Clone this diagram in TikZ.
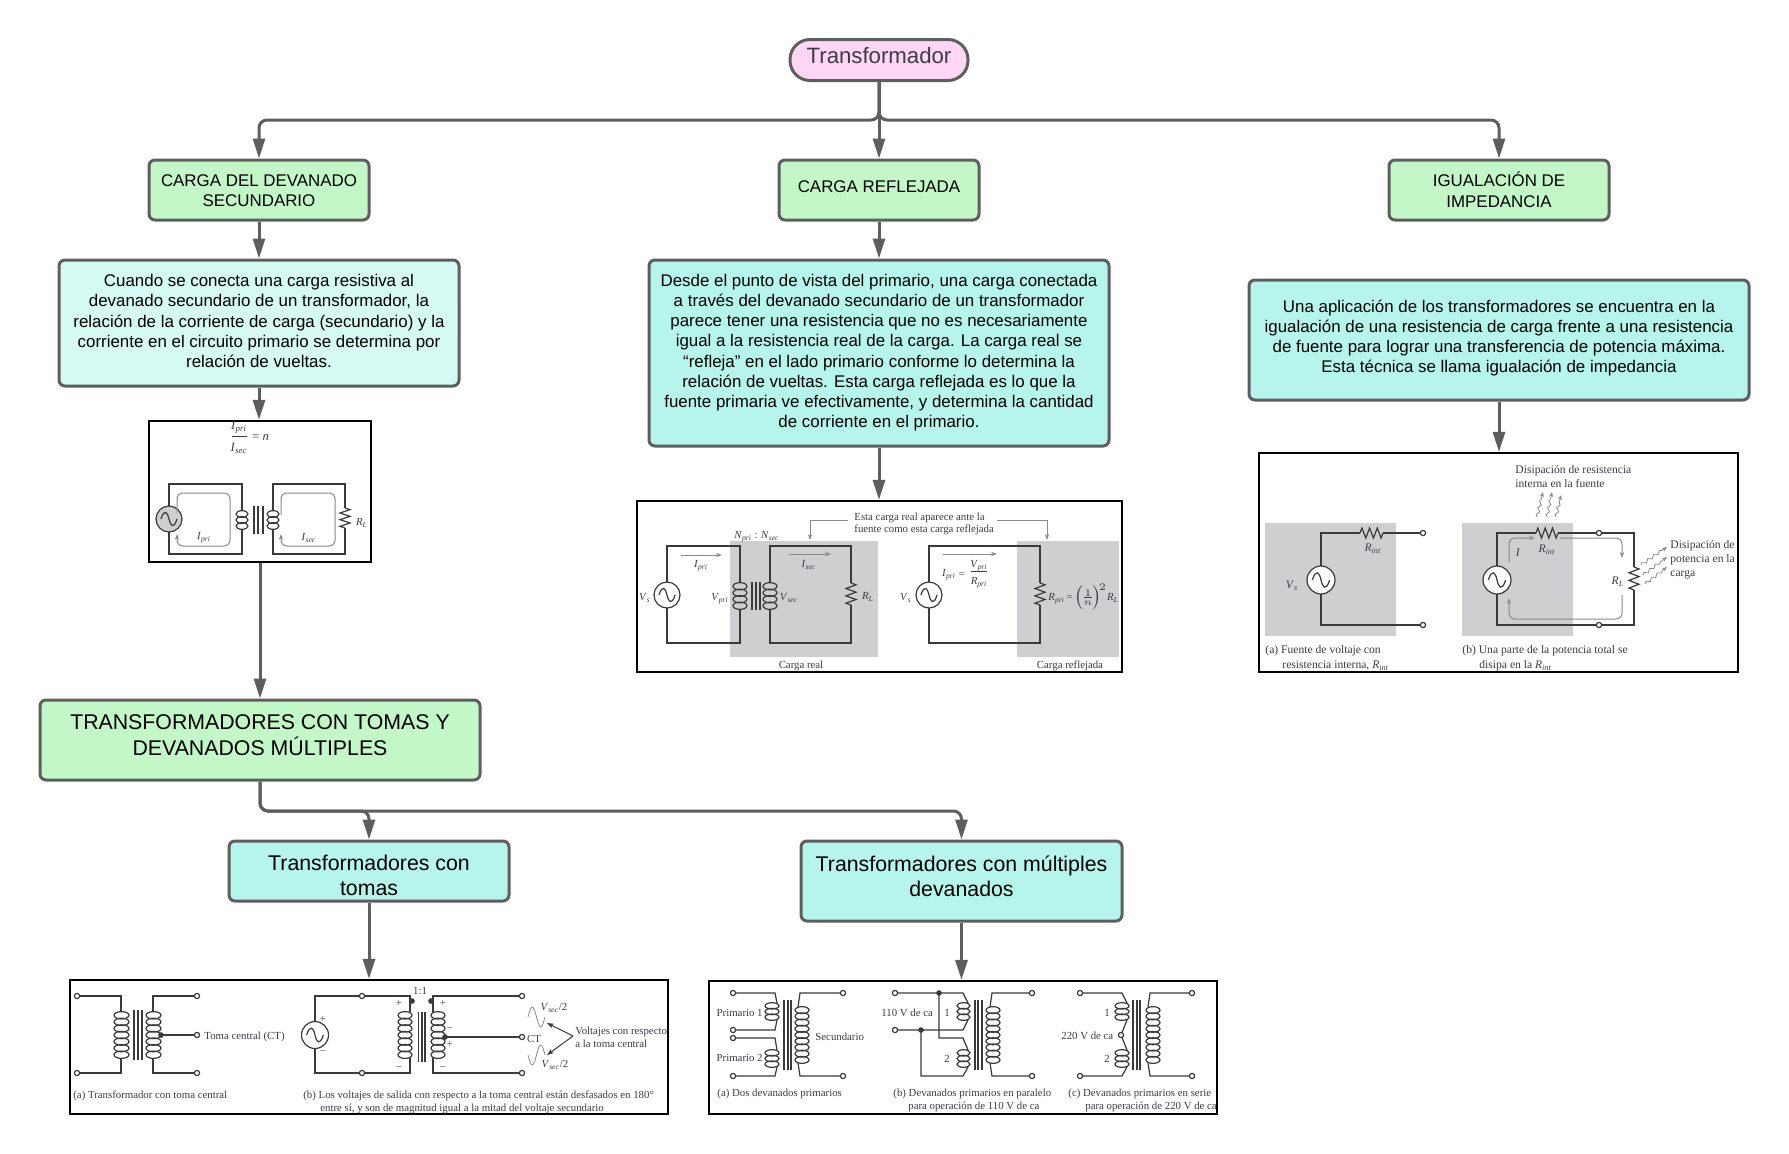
\documentclass[tikz,border=0pt]{standalone}
\usepackage{fontspec}
\setmainfont{Liberation Sans}
\newfontfamily\serf{Liberation Serif}
\usetikzlibrary{arrows.meta,decorations.pathmorphing}
\definecolor{edgec}{HTML}{5E5E5E}
\definecolor{greenc}{HTML}{C3F7C8}
\definecolor{cyanl}{HTML}{D5F9F3}
\definecolor{cyanc}{HTML}{B5F5EC}
\definecolor{pinkc}{HTML}{FFD6F5}
\definecolor{shadec}{HTML}{CFCFD1}
\definecolor{wirec}{HTML}{3A3A3A}
\definecolor{labc}{HTML}{3C3C44}
\definecolor{faint}{HTML}{8A8A8A}
\newcounter{lblc}
\newbox\tbbox
\newcommand{\bodyf}{\fontsize{8.45}{10.1}\selectfont}
\newcommand{\headf}{\fontsize{10.65}{12.6}\selectfont}
\newcommand{\TB}[3]{\setbox\tbbox=\hbox{#2\begin{tabular}{@{}c@{}}#3\end{tabular}}\raisebox{0pt}[\dimexpr\ht\tbbox-(#1)\relax][\dimexpr\dp\tbbox+(#1)\relax]{\copy\tbbox}}
\tikzset{
  flow/.style={draw=edgec,line width=1.5pt,rounded corners=3pt,text=black,align=center,inner sep=0pt},
  conn/.style={draw=edgec,line width=1.5pt,rounded corners=4pt,-{Triangle[length=10pt,width=6pt]}},
  frameb/.style={draw=black,line width=1.1pt,fill=white,inner sep=0pt},
  wire/.style={draw=wirec,line width=.6pt},
  inner arrow/.style={draw=faint,line width=.5pt,-{Stealth[length=3pt,width=2.2pt]}},
  lab/.style={inner sep=0pt,yshift=-.9pt,text=labc,font=\serf\fontsize{5.4}{6.4}\selectfont},
  labw/.style={font=\serf\fontsize{5.8}{6.8}\selectfont},
  labb/.style={font=\serf\fontsize{6.3}{7.3}\selectfont},
  heat/.style={draw=faint,line width=.4pt,-{Stealth[length=2.5pt,width=2pt]},decorate,decoration={snake,amplitude=.7pt,segment length=3.5pt,post length=2.5pt}}
}
% style, name, x1, y1, x2, y2, text
\newcommand{\Bx}[7]{%
  \pgfmathsetmacro{\bxw}{(#5-#3)*0.5}\pgfmathsetmacro{\bxh}{(#6-#4)*0.5}%
  \node[#1,minimum width=\bxw pt,minimum height=\bxh pt] (#2) at ({(#3+#5)/2},{(#4+#6)/2}) {#7};}
\newcommand{\Lbl}[4][]{\stepcounter{lblc}\node[lab,#1] (lbl\arabic{lblc}) at (#2,#3) {#4};}
\newcommand{\IV}[2]{\textit{#1}\textsubscript{\textit{#2}}}
\newcommand{\Coil}[5]{%
  \pgfmathsetmacro{\cx}{(#1+#2)/2}\pgfmathsetmacro{\rx}{(#2-#1)/2}\pgfmathsetmacro{\stp}{(#4-#3)/#5}%
  \foreach \k in {1,...,#5}{\draw[wire] (\cx,{#3+(\k-0.5)*\stp}) ellipse [x radius=\rx,y radius={0.56*\stp}];}}
\newcommand{\ResV}[3]{%
  \pgfmathsetmacro{\stp}{(#3-#2)/6}%
  \draw[wire] (#1,#2)--({#1+5},{#2+.5*\stp})--({#1-5},{#2+1.5*\stp})--({#1+5},{#2+2.5*\stp})--({#1-5},{#2+3.5*\stp})--({#1+5},{#2+4.5*\stp})--({#1-5},{#2+5.5*\stp})--(#1,#3);}
\newcommand{\ResH}[3]{%
  \pgfmathsetmacro{\stp}{(#2-#1)/6}%
  \draw[wire] (#1,#3)--({#1+.5*\stp},{#3-5})--({#1+1.5*\stp},{#3+5})--({#1+2.5*\stp},{#3-5})--({#1+3.5*\stp},{#3+5})--({#1+4.5*\stp},{#3-5})--({#1+5.5*\stp},{#3+5})--(#2,#3);}
\newcommand{\Src}[4]{%
  \draw[wire,fill=#4] (#1,#2) circle [radius=#3];
  \draw[wire] ({#1-.62*#3},#2) .. controls ({#1-.35*#3},{#2-.85*#3}) and ({#1-.1*#3},{#2-.5*#3}) .. (#1,#2) .. controls ({#1+.1*#3},{#2+.5*#3}) and ({#1+.35*#3},{#2+.85*#3}) .. ({#1+.62*#3},#2);}
\newcommand{\Term}[2]{\draw[wire,fill=white] (#1,#2) circle [radius=2.6];}
\newcommand{\Dot}[2]{\fill[wirec] (#1,#2) circle [radius=2.8];}
\newcommand{\Bars}[5]{\foreach \bb in {#1,#2,#3}{\draw[wirec,line width=.8pt] (\bb,#4)--(\bb,#5);}}
\begin{document}
\begin{tikzpicture}[x=0.5pt,y=-0.5pt]
\useasboundingbox (0,0) rectangle (1789,1153);
\fill[white] (0,0) rectangle (1789,1153);
% ---- flow boxes ----
\node[flow,fill=pinkc,rounded corners=10pt,minimum width=89pt,minimum height=20.5pt,text=labc] (top) at (879,60) {\raisebox{4.9pt}{\fontsize{11.1}{13}\selectfont Transformador}};
\Bx{flow,fill=greenc}{cds}{149}{160}{369}{220}{\TB{-1.3pt}{\bodyf}{CARGA DEL DEVANADO\\SECUNDARIO}}
\Bx{flow,fill=greenc}{cr}{779}{160}{979}{220}{\raisebox{3.1pt}{\bodyf CARGA REFLEJADA}}
\Bx{flow,fill=greenc}{ii}{1389}{160}{1609}{220}{\TB{-1.3pt}{\bodyf}{IGUALACIÓN DE\\IMPEDANCIA}}
\Bx{flow,fill=cyanl}{t1}{59}{260}{459}{386}{\TB{0pt}{\bodyf}{Cuando se conecta una carga resistiva al\\devanado secundario de un transformador, la\\relación de la corriente de carga (secundario) y la\\corriente en el circuito primario se determina por\\relación de vueltas.}}
\Bx{flow,fill=cyanc}{t2}{649}{260}{1109}{446}{\TB{0pt}{\bodyf}{Desde el punto de vista del primario, una carga conectada\\a través del devanado secundario de un transformador\\parece tener una resistencia que no es necesariamente\\igual a la resistencia real de la carga. La carga real se\\“refleja” en el lado primario conforme lo determina la\\relación de vueltas. Esta carga reflejada es lo que la\\fuente primaria ve efectivamente, y determina la cantidad\\de corriente en el primario.}}
\Bx{flow,fill=cyanc}{t3}{1249}{280}{1749}{400}{\TB{.7pt}{\bodyf}{Una aplicación de los transformadores se encuentra en la\\igualación de una resistencia de carga frente a una resistencia\\de fuente para lograr una transferencia de potencia máxima.\\Esta técnica se llama igualación de impedancia}}
\Bx{flow,fill=greenc}{tt}{40}{700}{480}{780}{\TB{1.1pt}{\headf}{TRANSFORMADORES CON TOMAS Y\\DEVANADOS MÚLTIPLES}}
\Bx{flow,fill=cyanc}{tc}{229}{841}{509}{901}{\TB{-3.4pt}{\headf}{Transformadores con\\tomas}}
\Bx{flow,fill=cyanc}{tm}{801}{841}{1122}{921}{\TB{1.1pt}{\headf}{Transformadores con múltiples\\devanados}}
% ---- picture frames ----
\Bx{frameb}{img1}{149}{421}{371}{562}{}
\Bx{frameb}{img2}{637}{501}{1122}{672}{}
\Bx{frameb}{img3}{1259}{453}{1738}{672}{}
\Bx{frameb}{img4}{70}{980}{668}{1114}{}
\Bx{frameb}{img5}{709}{981}{1217}{1114}{}
% ---- connectors ----
\coordinate (bus) at (879,120);
\coordinate (bus2) at (260,811);
\draw[conn] (top.south) -- (bus) -| (cds.north);
\draw[conn] (top.south) -- (cr.north);
\draw[conn] (top.south) -- (bus) -| (ii.north);
\draw[conn] (cds.south) -- (t1.north);
\draw[conn] (cr.south) -- (t2.north);
\draw[conn] (t1.south) -- (t1.south |- img1.north);
\draw[conn] (t2.south) -- (t2.south |- img2.north);
\draw[conn] (t3.south) -- (t3.south |- img3.north);
\draw[conn] (img1.south) -- (img1.south |- tt.north);
\draw[conn] (tt.south -| bus2) -- (bus2) -| (tc.north);
\draw[conn] (tt.south -| bus2) -- (bus2) -| (tm.north);
\draw[conn] (tc.south) -- (tc.south |- img4.north);
\draw[conn] (tm.south) -- (tm.south |- img5.north);
% ---- picture 1 ----
\Lbl[labb]{239}{426}{\IV{I}{pri}}
\draw[labc,line width=.4pt] (232,436)--(247,436);
\Lbl[labb]{239}{447}{\IV{I}{sec}}
\Lbl[labb,anchor=west]{252}{436}{= \textit{n}}
\draw[wire] (242,511)--(242,484)--(169,484)--(169,554)--(242,554)--(242,529);
\draw[wire] (273,511)--(273,484)--(345,484)--(345,508);
\draw[wire] (345,528)--(345,554)--(273,554)--(273,529);
\Src{169}{519}{13}{shadec}
\Coil{236}{248}{511}{529}{3}
\Coil{267}{279}{511}{529}{3}
\Bars{254}{258}{263}{506}{534}
\ResV{345}{508}{528}
\Lbl{362}{521}{\IV{R}{L}}
\draw[inner arrow,rounded corners=3pt] (177,513)--(177,493)--(230,493)--(230,546)--(177,546)--(177,534);
\draw[inner arrow,rounded corners=3pt] (281,515)--(281,493)--(335,493)--(335,546)--(281,546)--(281,534);
\Lbl{204}{536}{\IV{I}{pri}}
\Lbl{309}{536}{\IV{I}{sec}}
% ---- picture 2 ----
\fill[shadec] (730,541) rectangle (878,657);
\fill[shadec] (1017,541) rectangle (1119,657);
\draw[wire] (740,583)--(740,546)--(667,546)--(667,643)--(740,643)--(740,609);
\draw[wire] (770,583)--(770,546)--(851,546)--(851,583);
\draw[wire] (851,605)--(851,643)--(770,643)--(770,609);
\Src{667}{595}{13}{white}
\Coil{733}{747}{583}{609}{4}
\Coil{763}{777}{583}{609}{4}
\Bars{752}{756}{760}{582}{610}
\ResV{851}{583}{605}
\draw[wire] (1040,583)--(1040,546)--(929,546)--(929,643)--(1040,643)--(1040,605);
\Src{929}{595}{13}{white}
\ResV{1040}{583}{605}
\draw[inner arrow] (681,555)--(722,555);
\draw[inner arrow] (789,554)--(831,554);
\draw[inner arrow] (943,554)--(997,554);
\Lbl[anchor=west]{854}{516}{Esta carga real aparece ante la}
\Lbl[anchor=west]{854}{528}{fuente como esta carga reflejada}
\coordinate (nA) at (848,520);\coordinate (nB) at (810,540);\coordinate (nC) at (997,520);\coordinate (nD) at (1047,540);
\draw[inner arrow] (nA)-|(nB);
\draw[inner arrow] (nC)-|(nD);
\Lbl{645}{596}{\IV{V}{s}}
\Lbl{720}{597}{\IV{V}{pri}}
\Lbl{789}{596}{\IV{V}{sec}}
\Lbl{868}{595}{\IV{R}{L}}
\Lbl{757}{535}{\IV{N}{pri} : \IV{N}{sec}}
\Lbl{701}{564}{\IV{I}{pri}}
\Lbl{809}{563}{\IV{I}{sec}}
\Lbl{906}{596}{\IV{V}{s}}
\Lbl{949}{573}{\IV{I}{pri}}
\Lbl{962}{573}{=}
\Lbl{979}{564}{\IV{V}{pri}}
\draw[labc,line width=.4pt] (971,571)--(987,571);
\Lbl{979}{581}{\IV{R}{pri}}
\Lbl[anchor=west]{1048}{595}{\nulldelimiterspace=0pt\IV{R}{pri}\,=\,$\left(\frac{1}{n}\right)^{\!2}$\IV{R}{L}}
\Lbl{801}{664}{Carga real}
\Lbl{1070}{664}{Carga reflejada}
% ---- picture 3 ----
\fill[shadec] (1265,523) rectangle (1396,636);
\fill[shadec] (1462,523) rectangle (1573,636);
\draw[wire] (1360,533)--(1321,533)--(1321,625)--(1423,625);
\draw[wire] (1383,533)--(1423,533);
\Src{1321}{580}{14}{white}
\ResH{1360}{1383}{533}
\Term{1423}{533}\Term{1423}{625}
\Lbl[labw]{1373}{547}{\IV{R}{int}}
\Lbl[labw]{1292}{584}{\IV{V}{s}}
\Lbl[labw,anchor=west]{1265}{649}{(a) Fuente de voltaje con}
\Lbl[labw,anchor=west]{1282}{664}{resistencia interna, \IV{R}{int}}
\draw[wire] (1536,533)--(1497,533)--(1497,625)--(1634,625)--(1634,590);
\draw[wire] (1558,533)--(1634,533)--(1634,567);
\Src{1497}{580}{14}{white}
\ResH{1536}{1558}{533}
\ResV{1634}{567}{590}
\Term{1599}{533}\Term{1599}{625}
\Lbl[labw]{1618}{580}{\IV{R}{L}}
\Lbl[labw]{1547}{548}{\IV{R}{int}}
\Lbl[labw]{1518}{551}{\textit{I}}
\draw[inner arrow,rounded corners=3pt] (1509,562)--(1509,538)--(1535,538);
\draw[inner arrow,rounded corners=3pt] (1560,538)--(1622,538)--(1622,558);
\draw[inner arrow,rounded corners=3pt] (1622,595)--(1622,619)--(1509,619)--(1509,598);
\draw[heat] (1537,517)--(1543,492);
\draw[heat] (1547,517)--(1552,492);
\draw[heat] (1556,517)--(1561,495);
\draw[heat] (1641,565)--(1667,547);
\draw[heat] (1643,575)--(1667,557);
\draw[heat] (1645,584)--(1667,567);
\Lbl[labw,anchor=west]{1515}{469}{Disipación de resistencia}
\Lbl[labw,anchor=west]{1515}{482}{interna en la fuente}
\Lbl[labw,anchor=west]{1670}{544}{Disipación de}
\Lbl[labw,anchor=west]{1670}{558}{potencia en la}
\Lbl[labw,anchor=west]{1670}{573}{carga}
\Lbl[labw,anchor=west]{1462}{649}{(b) Una parte de la potencia total se}
\Lbl[labw,anchor=west]{1479}{664}{disipa en la \IV{R}{int}}
% ---- picture 4 ----
\draw[wire] (77,996)--(121,996)--(121,1012);
\draw[wire] (121,1058)--(121,1073)--(77,1073);
\draw[wire] (197,996)--(153,996)--(153,1012);
\draw[wire] (153,1058)--(153,1073)--(197,1073);
\Coil{114}{129}{1012}{1058}{7}
\Coil{146}{161}{1012}{1058}{7}
\Bars{134}{138}{142}{1010}{1060}
\draw[wire] (161,1035)--(197,1035);
\Dot{161}{1035}
\Term{77}{996}\Term{77}{1073}\Term{197}{996}\Term{197}{1073}\Term{197}{1035}
\Lbl[anchor=west]{204}{1035}{Toma central (CT)}
\Lbl[anchor=west]{73}{1094}{(a) Transformador con toma central}
\draw[wire] (315,1022)--(315,996)--(410,996)--(410,1012);
\draw[wire] (315,1048)--(315,1073)--(410,1073)--(410,1058);
\draw[wire] (522,996)--(433,996)--(433,1012);
\draw[wire] (522,1073)--(433,1073)--(433,1058);
\draw[wire] (445,1037)--(522,1037);
\Src{315}{1035}{13.5}{white}
\Coil{398}{412}{1012}{1058}{7}
\Coil{431}{445}{1012}{1058}{7}
\Bars{418.5}{421.7}{425}{1012}{1062}
\Dot{445}{1037}\Dot{412}{1001}\Dot{431}{1001}
\Term{362}{996}\Term{362}{1073}\Term{522}{996}\Term{522}{1073}\Term{522}{1037}
\Lbl{323}{1018}{+}\Lbl{323}{1051}{−}
\Lbl{399}{1002}{+}\Lbl{443}{1002}{+}\Lbl{399}{1067}{−}\Lbl{443}{1067}{−}
\Lbl{450}{1028}{−}\Lbl{450}{1043}{+}
\Lbl{420}{989}{1:1}
\Lbl{534}{1037}{CT}
\Lbl{554}{1006}{\IV{V}{sec}/2}
\Lbl{555}{1063}{\IV{V}{sec}/2}
\draw[faint,line width=.4pt] plot[domain=0:360,samples=30] ({528+\x/360*17},{1017-10*sin(\x)});
\draw[faint,line width=.4pt] plot[domain=0:360,samples=30] ({528+\x/360*17},{1055+10*sin(\x)});
\coordinate (vA) at (573,1036);\coordinate (vB) at (547,1023);\coordinate (vC) at (547,1055);
\draw[wirec,line width=.5pt,-{Stealth[length=3.5pt,width=2.5pt]}] (vA)--(vB);
\draw[wirec,line width=.5pt,-{Stealth[length=3.5pt,width=2.5pt]}] (vA)--(vC);
\Lbl[anchor=west]{575}{1030}{Voltajes con respecto}
\Lbl[anchor=west]{575}{1042}{a la toma central}
\Lbl[anchor=west]{303}{1094}{(b) Los voltajes de salida con respecto a la toma central están desfasados en 180°}
\Lbl[anchor=west]{320}{1107}{entre sí, y son de magnitud igual a la mitad del voltaje secundario}
% ---- picture 5 ----
\draw[wire] (733,993)--(775,993)--(777,1003);
\draw[wire] (777,1020)--(775,1030)--(733,1030);
\draw[wire] (733,1038)--(775,1038)--(777,1050);
\draw[wire] (777,1067)--(775,1076)--(733,1076);
\Coil{765}{779}{1003}{1020}{3}
\Coil{765}{779}{1050}{1067}{3}
\Bars{784}{788}{791}{1000}{1070}
\draw[wire] (843,993)--(800,993)--(798,1007);
\draw[wire] (798,1063)--(800,1076)--(843,1076);
\Coil{795}{809}{1007}{1063}{9}
\Term{733}{993}\Term{733}{1030}\Term{733}{1038}\Term{733}{1076}\Term{843}{993}\Term{843}{1076}
\Lbl[anchor=east]{763}{1011}{Primario 1}
\Lbl[anchor=east]{763}{1056}{Primario 2}
\Lbl[anchor=west]{815}{1035}{Secundario}
\Lbl[anchor=west]{717}{1092}{(a) Dos devanados primarios}
\draw[wire] (895,993)--(963,993)--(968,1003);
\draw[wire] (968,1020)--(963,1030)--(895,1030);
\draw[wire] (939,993)--(939,1038)--(963,1038)--(968,1050);
\draw[wire] (921,1030)--(921,1076)--(963,1076)--(968,1067);
\Coil{957}{970}{1003}{1020}{3}
\Coil{957}{970}{1050}{1067}{3}
\Bars{975}{978}{982}{1000}{1070}
\draw[wire] (1032,993)--(992,993)--(990,1007);
\draw[wire] (990,1063)--(992,1076)--(1032,1076);
\Coil{986}{1000}{1007}{1063}{9}
\Dot{939}{993}\Dot{921}{1030}
\Term{895}{993}\Term{895}{1030}\Term{1032}{993}\Term{1032}{1076}
\Lbl[anchor=west]{881}{1011}{110 V de ca}
\Lbl{947}{1011}{1}\Lbl{947}{1057}{2}
\Lbl[anchor=west]{893}{1092}{(b) Devanados primarios en paralelo}
\Lbl[anchor=west]{908}{1105}{para operación de 110 V de ca}
\draw[wire] (1080,993)--(1122,993)--(1127,1003);
\draw[wire] (1127,1020)--(1121,1035)--(1127,1050);
\draw[wire] (1127,1067)--(1122,1076)--(1080,1076);
\Coil{1115}{1129}{1003}{1020}{3}
\Coil{1115}{1129}{1050}{1067}{3}
\Bars{1133}{1137}{1140}{1000}{1070}
\draw[wire] (1192,993)--(1150,993)--(1148,1007);
\draw[wire] (1148,1063)--(1150,1076)--(1192,1076);
\Coil{1146}{1160}{1007}{1063}{9}
\Term{1080}{993}\Term{1080}{1076}\Term{1192}{993}\Term{1192}{1076}\Term{1121}{1035}
\Lbl{1107}{1011}{1}\Lbl{1107}{1057}{2}
\Lbl[anchor=west]{1061}{1034}{220 V de ca}
\Lbl[anchor=west]{1068}{1092}{(c) Devanados primarios en serie}
\Lbl[anchor=west]{1085}{1105}{para operación de 220 V de ca}
\end{tikzpicture}
\end{document}
